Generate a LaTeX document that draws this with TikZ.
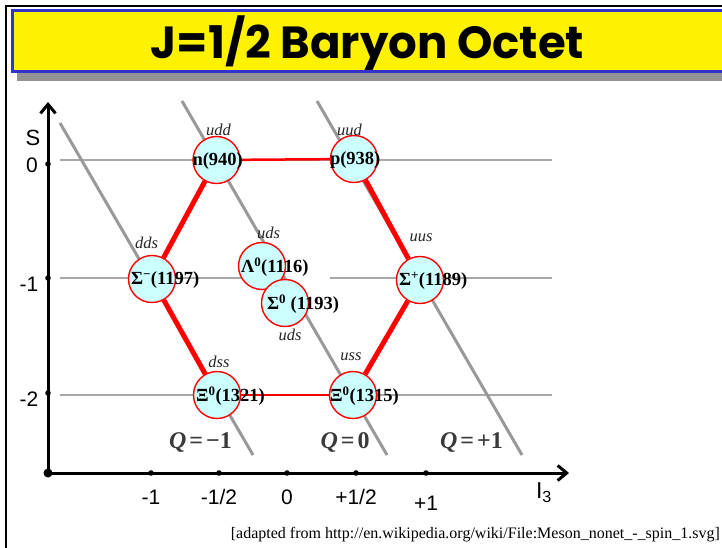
\documentclass[tikz,border=0pt]{standalone}
\usepackage{fontspec}
\setmainfont{Liberation Serif}
\newfontfamily\arialf{Liberation Sans}
\newfontfamily\titlef{Poppins}
\usetikzlibrary{arrows.meta}
\definecolor{cyanfill}{HTML}{CCFFFF}
\definecolor{titleblue}{HTML}{3333CC}
\definecolor{gline}{HTML}{A8A8A8}
\definecolor{qline}{HTML}{999999}
\definecolor{qtext}{HTML}{3A3A3A}
\begin{document}
\begin{tikzpicture}[x=1pt,y=-1pt,
  particle/.style={circle,draw=red,line width=1.4pt,fill=cyanfill,minimum size=47pt,inner sep=0pt},
  plabel/.style={anchor=west,inner sep=0pt,font=\fontsize{18.5}{18.5}\selectfont\bfseries},
  quark/.style={inner sep=0pt,font=\fontsize{16.5}{16.5}\selectfont\itshape,text=black!85},
  grayh/.style={draw=gline,line width=1.8pt},
  qlinestyle/.style={draw=qline,line width=3pt},
  redthick/.style={draw=red,line width=5pt},
  redthin/.style={draw=red,line width=2.5pt},
  axisline/.style={line width=3pt,line cap=round},
  axlabel/.style={font=\arialf\fontsize{21}{21}\selectfont,inner sep=0pt},
  qlab/.style={inner sep=0pt,font=\fontsize{24}{24}\selectfont\bfseries,text=qtext},
]
\useasboundingbox (0,0) rectangle (722,548);
\clip (0,0) rectangle (722,548);
\fill[white] (0,0) rectangle (722,548);
% frame
\draw[line width=2pt] (6,548) -- (6,6) -- (722,6);
% title
\fill[gray!85] (17,20) rectangle (740,81);
\draw[fill=yellow,draw=titleblue,line width=3pt] (12,11) rectangle (740,72);
\node[text=black,font=\titlef\bfseries\fontsize{45}{45}\selectfont] (title) at (367.5,43) {J=1/2 Baryon Octet};
% horizontal strangeness lines
\draw[grayh] (60,160) -- (552,160);
\draw[grayh] (60,278) -- (250,278);
\draw[grayh] (330,278) -- (552,278);
\draw[grayh] (60,395) -- (552,395);
% charge lines
\draw[qlinestyle] (60,123) -- (253,455);
\draw[qlinestyle] (182,101) -- (387,455);
\draw[qlinestyle] (317,101) -- (522,455);
% axes
\coordinate (O) at (48,473);
\coordinate (ytip) at (48,102);
\coordinate (xtip) at (569,473);
\draw[axisline,-{Straight Barb[length=9pt,width=15pt]}] (O) -- (ytip);
\draw[axisline,-{Straight Barb[length=9pt,width=15pt]}] (O) -- (xtip);
\fill (O) circle (4.5);
\foreach \yy in {164,278,393} \fill (48,\yy) circle (2.8);
\foreach \xx in {151,219,287,356,426} \fill (\xx,473) circle (2.8);
\node[axlabel,font=\arialf\fontsize{22}{22}\selectfont] (Slab) at (33,138) {S};
\node[axlabel] (s0) at (32,165) {0};
\node[axlabel] (s1) at (29,284) {-1};
\node[axlabel] (s2) at (29,399) {-2};
\node[axlabel] (i1) at (151,497) {-1};
\node[axlabel] (i2) at (219,497) {-1/2};
\node[axlabel] (i3) at (287,497) {0};
\node[axlabel] (i4) at (356,497) {+1/2};
\node[axlabel] (i5) at (426,503) {+1};
\node[axlabel,font=\arialf\fontsize{23}{23}\selectfont] (I3) at (544,493) {I\textsubscript{3}};
% particles
\node[particle] (n) at (216.5,160) {};
\node[particle] (p) at (354,159) {};
\node[particle] (sm) at (152,279) {};
\node[particle] (sp) at (420,280) {};
\node[particle] (lam) at (262,266) {};
\node[particle] (s0p) at (285,303) {};
\node[particle] (xm) at (217,395) {};
\node[particle] (x0) at (353,395) {};
% edges
\draw[redthin] (n) -- (p);
\draw[redthin] (xm) -- (x0);
\draw[redthick] (n) -- (sm);
\draw[redthick] (sm) -- (xm);
\draw[redthick] (p) -- (sp);
\draw[redthick] (sp) -- (x0);
% particle labels
\node[plabel] (nl) at ([xshift=0pt,yshift=-1pt]n.west) {n(940)};
\node[plabel] (pl) at ([xshift=0pt,yshift=-1pt]p.west) {p(938)};
\node[plabel] (sml) at ([xshift=3pt,yshift=-1pt]sm.west) {Σ\textsuperscript{−}(1197)};
\node[plabel] (spl) at ([xshift=3pt,yshift=-1pt]sp.west) {Σ\textsuperscript{+}(1189)};
\node[plabel] (laml) at ([xshift=3pt,yshift=-1pt]lam.west) {Λ\textsuperscript{0}(1116)};
\node[plabel] (s0l) at ([xshift=6pt,yshift=-1pt]s0p.west) {Σ\textsuperscript{0} (1193)};
\node[plabel] (xml) at ([xshift=3pt,yshift=-1pt]xm.west) {Ξ\textsuperscript{0}(1321)};
\node[plabel] (x0l) at ([xshift=1pt,yshift=-1pt]x0.west) {Ξ\textsuperscript{0}(1315)};
% quark content
\node[quark] (q1) at (218.5,130) {udd};
\node[quark] (q2) at (349.5,130) {uud};
\node[quark] (q3) at (146.5,243) {dds};
\node[quark] (q4) at (268.5,233) {uds};
\node[quark] (q5) at (421,238) {uus};
\node[quark] (q6) at (290,335) {uds};
\node[quark] (q7) at (219,362) {dss};
\node[quark] (q8) at (351,357) {uss};
% charge labels
\node[qlab] (qa) at (200.5,442) {\textit{Q}\hspace{3pt}=\hspace{3pt}−1};
\node[qlab] (qb) at (345,442) {\textit{Q}\hspace{3pt}=\hspace{3pt}0};
\node[qlab] (qc) at (471.5,442) {\textit{Q}\hspace{3pt}=\hspace{3pt}+1};
% attribution
\node[anchor=east,inner sep=0pt,font=\fontsize{16}{16}\selectfont] (src) at (720,535) {[adapted from http://en.wikipedia.org/wiki/File:Meson\_nonet\_-\_spin\_1.svg]};
\end{tikzpicture}
\end{document}
